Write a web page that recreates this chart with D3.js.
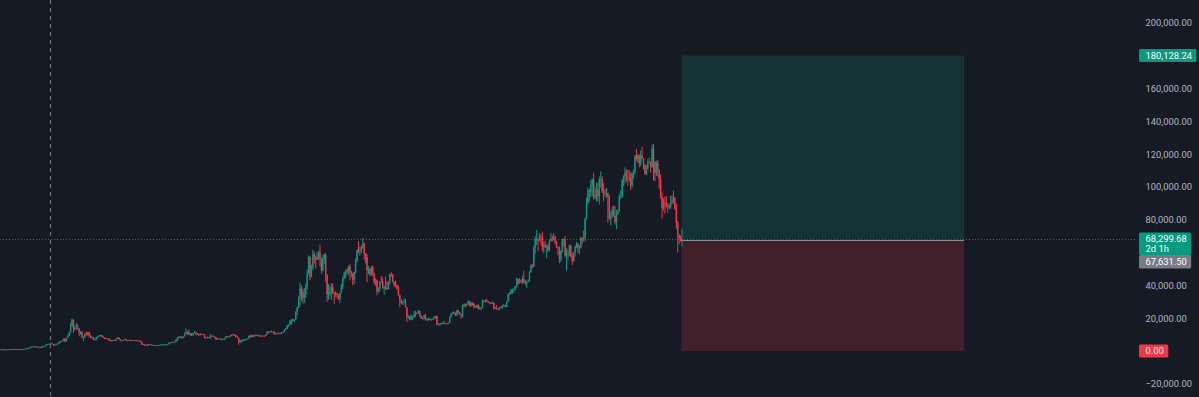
<!DOCTYPE html>
<html><head><meta charset="utf-8">
<script src="https://cdn.jsdelivr.net/npm/d3@7"></script>
<style>
html,body{margin:0;padding:0;background:#161a25;overflow:hidden}
svg{display:block}
</style></head><body>
<svg id="c" width="1199" height="397"></svg>
<script>
// ---- data (weekly BTC candles, prices in thousands of USD) ----
const firstWeek = "2016-12-19";
const firstOpenK = 0.79;
const closeK = [
0.89,0.99,
0.91,0.82,0.92,0.92,1.02,1.0,1.05,1.17,1.27,1.24,1.02,0.97,1.08,1.18,1.18,1.24,1.35,1.55,1.75,2.04,2.2,2.52,2.95,2.5,2.55,2.5,2.5,1.95,2.75,2.75,3.25,4.05,4.1,4.35,4.6,4.3,3.7,3.6,4.35,4.6,5.7,5.95,6.15,7.4,5.9,8.0,9.3,11.3,15.0,19.1,13.9,13.8,
14.2,13.6,11.5,11.8,8.2,8.2,10.4,9.6,11.5,9.5,8.2,8.5,6.9,7.0,8.4,9.0,9.4,9.7,8.7,8.2,7.4,7.7,7.5,6.5,6.1,6.4,6.7,6.35,7.4,8.2,7.0,6.3,6.4,6.7,7.3,6.3,6.5,6.7,6.6,6.6,6.4,6.5,6.4,6.4,6.35,5.6,4.0,4.2,3.6,3.2,3.9,3.85,4.0,
3.5,3.55,3.55,3.4,3.65,3.65,3.8,3.8,3.9,3.95,4.0,4.1,5.1,5.1,5.3,5.2,5.7,6.9,8.2,8.7,8.5,7.9,8.9,10.8,11.8,11.4,10.2,10.7,9.5,11.0,11.4,10.3,10.1,9.6,10.4,10.3,10.0,8.0,7.9,8.3,7.95,9.2,9.2,8.8,8.5,7.0,7.4,7.5,7.1,7.3,7.4,7.8,
8.9,8.7,8.6,9.3,10.0,9.9,9.7,8.55,8.0,5.4,5.8,5.9,6.8,6.9,7.1,7.7,8.9,8.7,9.7,8.7,9.45,9.7,9.35,9.3,9.0,9.3,9.25,9.2,9.9,11.8,11.7,11.9,11.7,11.7,10.3,10.7,11.1,10.7,10.6,11.4,11.5,13.0,13.8,15.5,16.0,18.4,18.2,19.2,19.2,23.8,26.4,33.0,
38.2,36.0,32.3,34.3,39.2,47.2,57.5,45.2,51.2,59.0,57.5,55.8,57.0,60.0,56.2,49.0,56.6,58.2,46.4,34.7,35.7,35.8,39.1,35.6,34.7,35.3,34.2,31.8,35.4,39.9,44.6,47.0,49.3,48.9,51.8,48.3,47.3,43.2,48.2,55.0,61.5,61.0,61.3,63.3,65.5,59.7,57.3,49.4,50.1,46.7,50.8,47.3,
41.9,43.1,36.3,37.9,42.4,42.2,38.3,39.1,38.4,37.8,42.2,46.8,46.4,42.2,40.4,39.5,37.6,34.0,31.3,29.4,29.4,29.9,26.6,20.5,21.0,19.3,20.8,20.8,22.6,23.3,23.2,24.3,21.5,19.6,19.8,21.8,19.4,18.8,19.3,19.4,19.2,19.6,20.6,21.2,16.3,16.3,16.5,17.1,17.1,16.8,16.8,16.6,
17.1,20.9,22.7,23.7,23.3,21.8,24.6,23.5,22.2,22.0,28.0,27.5,28.5,28.3,30.3,27.6,29.3,28.9,26.9,26.7,28.1,25.8,25.9,26.3,30.5,30.6,30.3,30.2,29.9,29.3,29.0,29.4,26.1,26.0,25.8,25.8,26.5,26.3,27.9,27.9,26.9,30.0,34.5,35.0,37.0,37.4,37.4,39.5,43.8,41.4,42.9,42.3,
43.9,41.7,41.6,42.0,42.6,48.3,52.1,51.7,63.1,68.4,68.4,67.2,69.6,69.4,63.3,64.9,63.4,64.0,61.5,67.0,68.5,67.8,69.6,66.2,63.2,62.7,55.8,60.8,68.2,68.3,58.1,58.7,59.0,64.2,57.3,54.8,60.0,63.6,65.6,62.9,63.0,69.0,68.0,68.8,80.4,90.0,97.9,97.0,101.2,104.5,95.0,93.7,98.4,
94.5,104.6,104.8,97.7,96.5,96.1,96.2,94.2,80.7,82.6,86.1,82.4,78.4,83.7,85.1,94.0,94.3,104.1,106.5,109.0,105.7,105.7,105.5,100.9,108.4,109.2,119.0,117.3,119.4,114.2,119.3,117.4,113.5,108.2,111.1,115.3,115.3,112.2,123.5,115.0,108.6,114.5,110.5,104.7,94.0,87.0,90.4,90.2,88.2,88.3,87.8,91.0,
90.5,93.6,86.5,78.0,70.5,68.8,67.6,68.3
];
const highK = [
0.93,1.0,
1.15,0.91,0.93,0.93,1.03,1.07,1.06,1.2,1.29,1.33,1.26,1.06,1.1,1.21,1.21,1.25,1.36,1.6,1.8,2.1,2.76,2.6,2.98,2.98,2.8,2.6,2.65,2.55,2.9,2.8,3.3,4.1,4.48,4.4,4.98,4.7,4.35,4.1,4.4,4.65,5.85,6.0,6.2,7.5,7.88,8.1,9.5,11.4,17.2,19.8,19.1,15.5,
17.2,16.3,14.0,12.0,11.8,9.0,11.0,11.8,11.7,11.7,9.9,9.1,8.5,7.5,8.5,9.0,9.7,9.9,9.7,8.9,8.3,7.8,7.8,7.6,6.8,6.5,6.8,6.8,7.6,8.5,8.2,7.1,6.6,6.9,7.4,7.4,6.6,6.8,6.9,6.7,6.7,6.6,6.5,6.5,6.6,6.4,5.6,4.4,4.2,3.6,4.2,4.2,4.1,
4.1,3.7,3.6,3.55,3.7,3.7,4.2,3.9,3.95,4.0,4.1,4.15,5.3,5.4,5.4,5.6,5.9,7.3,8.3,8.9,9.1,8.8,9.0,11.2,13.8,12.0,13.2,11.1,10.7,11.1,12.3,11.6,10.9,10.6,10.9,10.5,10.3,10.0,8.5,8.7,8.4,10.5,9.6,9.5,8.9,8.5,7.9,7.7,7.6,7.5,7.6,7.9,
8.9,9.2,8.8,9.6,10.1,10.5,10.2,9.9,9.2,8.0,6.9,6.9,7.2,7.5,7.2,7.8,9.4,10.0,9.9,9.8,9.6,10.4,9.9,9.6,9.8,9.4,9.45,9.3,10.0,12.1,12.0,12.1,12.5,11.8,12.1,10.8,11.2,11.0,10.9,11.5,11.7,13.2,14.0,15.9,16.4,18.8,19.4,19.9,19.4,24.2,27.0,33.3,
41.9,40.1,37.9,38.5,40.9,49.7,58.3,57.5,52.6,61.7,60.6,58.3,60.2,61.2,64.8,57.0,58.5,59.5,59.6,46.6,40.9,39.5,41.3,41.3,35.7,36.6,35.1,34.6,35.8,40.9,45.3,48.1,49.5,50.5,51.9,52.9,48.8,47.0,48.4,56.5,62.0,67.0,63.7,64.3,69.0,66.3,59.2,59.1,51.9,50.1,51.9,52.1,
47.6,44.4,43.5,38.9,42.6,45.8,44.7,39.8,45.4,42.6,42.3,46.9,48.2,47.0,42.4,42.9,40.8,39.9,34.2,31.3,30.6,32.4,31.6,26.8,21.9,21.5,22.4,21.6,24.3,24.6,23.6,25.2,24.4,21.8,20.5,21.9,22.7,19.9,20.2,20.5,19.6,19.7,21.0,21.5,21.5,17.2,16.7,17.4,17.4,18.4,17.0,16.9,
17.4,21.2,23.3,23.9,24.2,23.4,25.2,25.1,23.9,22.6,28.5,28.8,29.2,28.8,31.0,30.5,30.0,29.8,29.0,27.5,28.3,28.4,27.3,26.8,31.4,31.0,31.4,31.8,30.4,30.0,29.7,30.2,29.7,26.8,28.1,26.1,26.9,27.4,28.0,28.6,27.8,30.3,35.2,35.9,37.9,38.0,38.4,39.7,44.7,44.0,44.4,43.6,
45.9,48.9,43.2,42.8,43.9,48.6,52.8,52.9,64.0,70.0,73.8,68.1,71.7,71.4,72.8,66.9,67.2,64.7,65.5,67.7,71.9,70.6,71.9,70.2,66.9,63.3,63.8,61.5,68.4,68.6,70.0,62.7,61.6,65.0,64.5,59.8,60.6,64.1,66.5,65.6,64.5,69.4,69.5,73.6,81.5,93.5,99.6,98.7,104.0,105.2,108.3,99.9,102.7,
102.7,106.4,109.6,106.5,102.5,98.8,99.5,96.5,95.0,85.3,88.0,88.8,88.5,86.1,86.4,95.8,97.9,104.9,107.1,112.0,110.7,110.6,110.4,108.9,108.8,110.5,119.5,123.2,120.2,119.8,122.3,124.5,117.6,113.6,113.4,116.7,117.9,115.4,125.8,126.2,115.9,115.9,116.4,110.9,107.5,96.6,93.1,94.1,94.6,90.4,89.5,94.7,
94.8,97.9,93.6,90.0,79.3,71.5,70.5,74.5
];
const lowK = [
0.79,0.88,
0.89,0.75,0.82,0.88,0.91,0.94,0.98,1.05,1.16,0.98,0.95,0.89,0.93,1.05,1.15,1.16,1.23,1.34,1.52,1.73,1.85,2.13,2.5,2.13,2.45,2.3,2.45,1.84,1.93,2.5,2.65,3.2,3.8,3.95,4.3,3.95,2.97,3.5,3.6,4.2,4.6,5.1,5.4,6.1,5.5,5.8,7.95,9.0,11.3,15.0,10.9,12.5,
13.0,12.8,9.0,10.0,7.8,6.0,8.0,9.3,9.4,8.4,7.7,8.0,6.6,6.4,6.6,7.8,8.6,8.9,8.4,7.9,7.2,7.1,7.3,6.1,5.9,5.8,6.2,6.1,6.3,7.4,6.9,6.0,5.9,6.2,6.7,6.1,6.2,6.2,6.4,6.5,6.2,6.4,6.4,6.3,6.3,5.2,3.5,3.6,3.3,3.15,3.2,3.6,3.7,
3.5,3.5,3.45,3.35,3.35,3.55,3.6,3.7,3.7,3.85,3.9,3.9,4.1,4.9,5.0,5.0,5.2,5.7,6.2,7.5,8.1,7.5,7.7,8.9,10.3,9.7,9.9,9.1,9.2,9.4,11.0,9.5,9.9,9.3,9.6,9.9,9.7,7.8,7.7,7.8,7.9,7.3,8.9,8.6,8.0,6.8,6.9,7.2,7.0,6.4,7.1,6.9,
7.7,8.5,8.3,8.5,9.1,9.7,9.3,8.4,7.7,3.9,4.9,5.7,5.9,6.6,6.5,6.8,7.6,8.1,8.2,8.6,8.6,9.3,9.1,9.2,8.9,8.9,9.1,9.1,9.2,9.9,11.0,11.2,11.5,11.2,9.9,9.9,10.6,10.2,10.4,10.5,11.2,11.4,12.9,13.2,14.8,15.8,16.3,18.1,17.6,19.0,22.0,26.0,
27.7,30.4,29.0,29.2,32.3,37.4,47.0,43.0,44.9,49.3,53.3,50.4,55.4,55.5,51.5,47.0,48.8,52.9,42.2,30.0,31.2,33.3,31.0,34.8,28.8,32.7,32.1,31.0,29.3,35.2,37.5,43.8,44.2,46.3,46.6,43.0,44.8,40.0,40.8,47.1,53.9,59.5,58.0,59.4,62.3,55.6,53.5,42.0,46.8,45.6,45.6,45.8,
40.5,39.6,34.0,35.6,36.3,41.7,38.0,34.3,37.2,37.2,37.6,40.5,45.2,41.9,39.2,38.8,37.6,33.7,26.7,28.7,28.0,29.3,26.6,17.6,19.7,18.6,18.8,18.9,20.7,20.7,22.4,22.7,20.8,19.6,19.6,18.5,19.3,18.1,18.5,19.0,18.2,18.9,19.2,20.0,15.6,16.2,15.5,16.0,16.9,16.3,16.5,16.3,
16.5,17.2,20.4,22.3,22.5,21.4,21.4,22.8,21.9,19.6,20.5,26.6,26.5,27.3,28.2,27.0,27.0,27.7,25.8,26.4,26.1,25.4,25.4,24.8,26.2,29.6,29.7,29.9,29.5,28.9,28.6,28.8,25.2,25.8,25.4,24.9,25.0,26.0,25.9,27.2,26.6,26.8,29.9,33.9,34.5,34.8,35.6,37.2,39.0,40.2,41.0,41.3,
40.8,41.5,40.3,38.5,41.9,42.3,47.7,50.5,50.9,59.0,64.6,60.8,66.8,64.5,60.8,59.6,62.8,56.5,60.2,60.8,66.6,66.7,67.6,65.1,62.7,58.4,53.5,54.3,59.9,63.5,57.2,49.0,56.1,57.8,57.2,52.5,54.6,57.5,62.7,59.8,58.9,62.5,65.1,66.8,66.8,80.2,89.4,90.8,93.6,94.2,92.2,92.5,91.3,
91.2,89.3,99.5,96.2,91.2,94.1,93.4,78.2,80.0,76.6,81.1,81.6,77.1,74.4,83.0,84.9,92.8,93.4,100.7,102.1,103.1,100.4,103.4,98.2,99.6,105.1,107.5,115.7,114.7,112.0,112.7,116.8,110.7,107.3,107.3,110.6,114.4,108.6,111.6,104.0,103.5,106.6,106.3,98.9,93.0,80.6,85.5,83.8,87.5,84.4,86.5,86.8,
89.3,90.0,86.1,74.5,60.0,65.1,66.5,63.5
];
const targetPrice = 180128.24;
const entryPrice = 67631.50;
const stopPrice = 0.00;
const lastPrice = 68299.68;
const countdownText = "2d 1h";
const positionEndWeek = "2029-12-10";
const crosshairDay = "2017-08-24";
const yTickValues = [-20000, 20000, 40000, 80000, 100000, 120000, 140000, 160000, 200000];

// ---- build candles ----
const n = Math.min(closeK.length, highK.length, lowK.length);
const start = new Date(firstWeek + "T00:00:00Z");
const candles = [];
for (let i = 0; i < n; i++) {
  const open = i === 0 ? firstOpenK : closeK[i - 1];
  candles.push({
    date: d3.utcDay.offset(start, 7 * i),
    open: open * 1000, close: closeK[i] * 1000,
    high: Math.max(highK[i], open, closeK[i]) * 1000,
    low: Math.min(lowK[i], open, closeK[i]) * 1000
  });
}

const W = 1199, H = 397;
const GREEN = "#089981", RED = "#f23645", GREY = "#787b86";
const FONT = "Roboto, 'Liberation Sans', sans-serif";
const FS = 9.4;

const x = d3.scaleUtc()
  .domain([candles[0].date, candles[n - 1].date])
  .range([-0.7, 682]);
const y = d3.scaleLinear().domain([-20000, 200000]).range([383.8, 22.9]);

const svg = d3.select("#c");
svg.append("rect").attr("width", W).attr("height", H).attr("fill", "#161a25");

// ---- position tool boxes ----
const bx0 = x(candles[n - 1].date) - 0.5;
const bx1 = x(new Date(positionEndWeek + "T00:00:00Z"));
svg.append("rect").attr("x", bx0).attr("width", bx1 - bx0)
  .attr("y", y(targetPrice)).attr("height", y(entryPrice) - y(targetPrice))
  .attr("fill", GREEN).attr("fill-opacity", 0.2);
svg.append("rect").attr("x", bx0).attr("width", bx1 - bx0)
  .attr("y", y(entryPrice)).attr("height", y(stopPrice) - y(entryPrice))
  .attr("fill", RED).attr("fill-opacity", 0.2);

// ---- crosshair vertical ----
const cx = Math.round(x(new Date(crosshairDay + "T00:00:00Z"))) + 0.5;
svg.append("line").attr("x1", cx).attr("x2", cx).attr("y1", 0).attr("y2", H)
  .attr("stroke", "#6a6d78").attr("stroke-width", 1.2).attr("stroke-dasharray", "4,4");

// ---- last price dotted line ----
const ly = Math.round(y(lastPrice)) + 0.5;
svg.append("line").attr("x1", 0).attr("x2", 1137).attr("y1", ly).attr("y2", ly)
  .attr("stroke", GREEN).attr("stroke-opacity", 0.75).attr("stroke-width", 1)
  .attr("stroke-dasharray", "1,2");

// ---- candles ----
const g = svg.append("g");
const cs = g.selectAll("g.c").data(candles).join("g").attr("class", "c")
  .attr("fill", d => d.close >= d.open ? GREEN : RED);
cs.append("rect")
  .attr("x", d => x(d.date) - 0.5).attr("width", 1)
  .attr("y", d => y(d.high)).attr("height", d => Math.max(0.8, y(d.low) - y(d.high)));
cs.append("rect")
  .attr("x", d => x(d.date) - 0.7).attr("width", 1.4)
  .attr("y", d => y(Math.max(d.open, d.close)))
  .attr("height", d => Math.max(0.8, Math.abs(y(d.open) - y(d.close))));

// ---- entry line ----
const ey = Math.round(y(entryPrice)) + 0.5;
svg.append("line").attr("x1", bx0).attr("x2", bx1).attr("y1", ey).attr("y2", ey)
  .attr("stroke", "#8b8e97").attr("stroke-width", 1);

// ---- price axis ----
const axis = d3.axisRight(y).tickValues(yTickValues).tickSize(0).tickPadding(0)
  .tickFormat(d3.format(",.2f"));
const ag = svg.append("g").attr("transform", "translate(1145.5,0)").call(axis);
ag.select(".domain").remove();
ag.selectAll("text").attr("fill", "#b2b5be").attr("font-family", FONT).attr("font-size", FS);

// ---- axis labels ----
const fmt = d3.format(",.2f");
function label(yTop, h, lines, fill) {
  const lg = svg.append("g");
  const r = lg.append("rect").attr("x", 1139).attr("y", yTop).attr("height", h)
    .attr("rx", 1.5).attr("fill", fill);
  let maxW = 0;
  lines.forEach(l => {
    const t = lg.append("text").attr("x", 1145.5).attr("y", l.cy).attr("dy", "0.35em")
      .attr("fill", "#ffffff").attr("font-family", FONT).attr("font-size", FS).text(l.text);
    maxW = Math.max(maxW, t.node().getComputedTextLength());
  });
  r.attr("width", maxW + 11);
}
const yt = y(targetPrice);
label(yt - 6.5, 13, [{text: fmt(targetPrice), cy: yt}], GREEN);
const yl = y(lastPrice);
label(yl - 6.5, 22.5, [{text: fmt(lastPrice), cy: yl}, {text: countdownText, cy: yl + 9.6}], GREEN);
label(yl + 16, 13.5, [{text: fmt(entryPrice), cy: yl + 22.7}], GREY);
const ys = y(stopPrice);
label(ys - 6.5, 13, [{text: fmt(stopPrice), cy: ys}], RED);
</script>
</body></html>
